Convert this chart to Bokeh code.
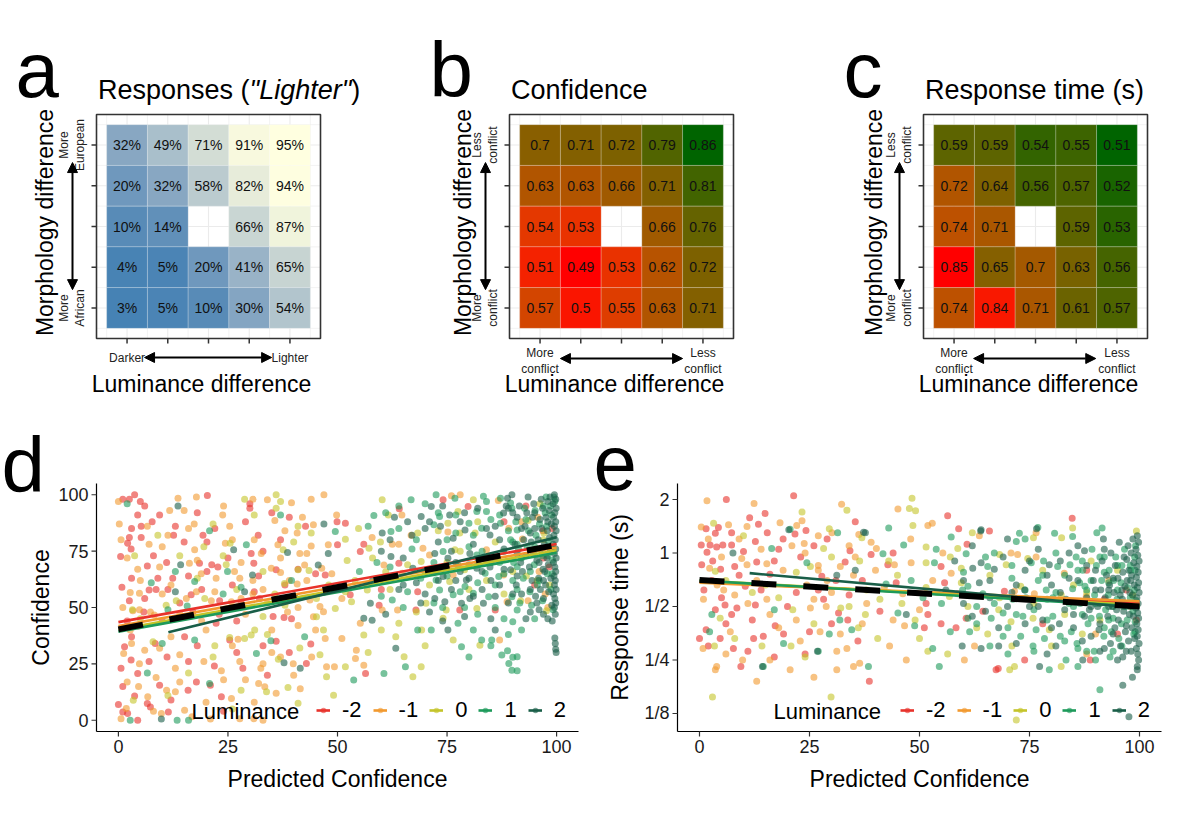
import math
from bokeh.plotting import figure
from bokeh.models import (ColumnDataSource, LinearColorMapper, Arrow, NormalHead,
                          Range1d, Legend, LegendItem)
from bokeh.layouts import column, row
from bokeh.embed import file_html
from bokeh.resources import INLINE
from bokeh.core.properties import value

FONT = "Liberation Sans"

# ---------------- heatmap data (rows listed top -> bottom, columns left -> right) ----------------
grid_cols = [1, 2, 3, 4, 5]
grid_rows = [5, 4, 3, 2, 1]
resp_pct = [[32, 49, 71, 91, 95],
            [20, 32, 58, 82, 94],
            [10, 14, None, 66, 87],
            [4, 5, 20, 41, 65],
            [3, 5, 10, 30, 54]]
conf_vals = [[0.70, 0.71, 0.72, 0.79, 0.86],
             [0.63, 0.63, 0.66, 0.71, 0.81],
             [0.54, 0.53, None, 0.66, 0.76],
             [0.51, 0.49, 0.53, 0.62, 0.72],
             [0.57, 0.50, 0.55, 0.63, 0.71]]
rt_vals = [[0.59, 0.59, 0.54, 0.55, 0.51],
           [0.72, 0.64, 0.56, 0.57, 0.52],
           [0.74, 0.71, None, 0.59, 0.53],
           [0.85, 0.65, 0.70, 0.63, 0.56],
           [0.74, 0.84, 0.71, 0.61, 0.57]]

# ---------------- scatter data ----------------
lum_labels = ["-2", "-1", "0", "1", "2"]
lum_colors = ["#E8322B", "#F2992E", "#C4C42A", "#1D9A5A", "#195E48"]
pc_ticks = [0, 25, 50, 75, 100]
pc_tick_labels = ["0", "25", "50", "75", "100"]
conf_ticks = [0, 25, 50, 75, 100]
conf_tick_labels = ["0", "25", "50", "75", "100"]
rt_ticks = [0.125, 0.25, 0.5, 1, 2]
rt_tick_labels = ["1/8", "1/4", "1/2", "1", "2"]

# panel d: (predicted confidence, confidence)
conf_pts_m2 = [(1,98),(2.5,98),(3.7,100),(5,97),(20.3,99.7),(30,96),(30,94),(4.4,91),(5.2,86),(9.4,91),(7.7,88),(19.3,82),(31.9,82),(39,90),(2.5,81),(2.1,78.5),(2.9,76),(0.5,72.6),(5.2,81),(12.6,82),(20.2,79),(30.3,74),(30.9,69.6),(6.6,68.4),(12.4,63),(18.5,69.6),(21.3,69),(22.7,68),(20.2,66),(36,66.7),(0.8,59),(7,57.8),(8.6,58),(2.5,53),(11.3,58),(16.6,55.6),(23.1,53),(32.2,54),(5.8,48),(4.6,41.8),(3,37),(15.1,37),(22.3,43),(25.4,35.6),(35.3,46),(39.5,45),(37.8,45.6),(1.4,32.6),(2.9,26.7),(0.6,23),(8.4,34),(11.1,28),(21.9,24),(28.4,23),(33,33),(4.4,20.7),(9.4,15.5),(3.7,10.7),(15.9,13.3),(17.8,17),(21,15.5),(23.5,10.4),(0,7),(1,3.7),(2.1,3),(4.4,0),(6.6,7.4),(7.3,5.9),(11.4,3.7),(74.1,97.8),(79.8,94.8),(64.1,93.8),(42.7,86),(51.8,87.4),(56,78),(50,77.8),(47.2,64.4),(55.2,74.8),(64,69.6),(52.9,55.6),(59.5,51),(68.3,57),(67.9,48.9),(77.9,48.9),(86,48.9),(43.9,33.8),(56.4,20.7),(42.9,25.2),(49.9,88),(60,58),(93,95),(97,72),(95,60),(99,85),(88,88),(98.3,68),(96.9,84),(45,65),(38,60),(8,73),(14,52),(18,92),(26,60),(33,75),(36,35),(3,63),(10,44),(16,26),(24,4),(28,52),(40,55),(2,44),(6,54),(9,63),(11,70),(13,86),(15,79),(17,48),(19,58),(22,85),(25,72),(27,44),(29,88),(32,64),(34,20),(37,80),(39,30),(41,67),(1,15),(7,26),(12,9),(18,33),(23,47),(27,30),(31,57),(35,92),(6,95),(16,64),(3,85)]
conf_pts_m1 = [(0,97),(13.6,98.5),(17.8,99),(30.7,98),(39.5,96.5),(34,97.8),(0.2,87),(11.7,93),(6.6,86),(15,93),(17.3,87),(23.8,91),(25.4,86),(35.7,88.6),(40.8,83),(0.6,80),(2,72),(11.3,82),(17.4,75.6),(24.4,78.5),(32.6,74),(36.4,77.8),(41.4,74),(4.4,67),(9.4,68),(16.2,69.6),(18.9,65),(22.3,63),(26.5,66),(27.7,63),(30.7,62),(34.9,67.4),(37,65.5),(2.7,56.6),(4.8,56.3),(3.3,48.6),(17.8,57),(15.5,54),(21.2,53),(25.8,52.6),(28,54),(30.7,56),(34,52),(40.8,60.4),(4.8,49),(7.3,48),(8.2,46.7),(2.7,40),(27.3,35.9),(38.6,48),(41,42),(1.2,29.6),(4.8,25),(9.4,31.9),(13,23),(19.5,26),(23.5,22),(27.7,26),(33,25),(39.9,25),(37,28),(32.5,23),(8.6,19),(4.6,15),(6.7,10.4),(11,13.3),(13,12.6),(32,16.3),(33.4,14.8),(41.5,14),(1.8,5.2),(0.6,0.7),(9.8,3),(15.1,4.4),(16.8,1.5),(25.8,9.6),(27.7,0.7),(30.9,0.7),(21,0.5),(33,0),(46.9,100),(76,99.6),(49.8,91),(64.7,91),(44.5,86.7),(57.9,81),(62.5,78),(64,78),(66.8,82),(75.2,83.5),(89.1,85.2),(47.9,77.8),(44,77.3),(43,74),(42.5,68.9),(46.4,67.4),(48.7,65),(60.6,68.9),(71,73.3),(69.5,76.3),(84,75.6),(87.9,64.4),(64.8,65.2),(76.4,64.4),(43.7,53.3),(46,50.4),(51,54),(60.2,48.9),(63.7,48.9),(88.7,52.6),(47.9,57.8),(46.8,48.1),(44.5,45.9),(47.2,36.3),(51,36.3),(54.3,31),(55.2,43),(87,35.6),(44.1,28),(47.5,23.7),(49.3,23.7),(54.1,27.4),(56,24.4),(78,100),(86.7,97.5),(92,88),(92.2,80.4),(96,66),(93.5,53),(98,50),(99,76),(95.7,90),(97.4,56),(5,62),(10,77),(14,47),(19,44),(26,80),(29,47),(35,40),(38,84),(12,37),(24,18),(31,8),(6,31),(1,50),(3,34),(7,78),(10,56),(12,60),(14,29),(16,85),(18,71),(20,40),(22,57),(24,95),(26,33),(28,70),(29,18),(31,80),(33,58),(35,30),(37,72),(39,62),(41,50),(43,62),(45,40),(2,17),(8,4),(14,17),(20,8),(36,12),(42,90),(44,98),(40,20)]
conf_pts_0 = [(28.8,98),(36,100),(37,97),(21.6,87),(36,94),(41,86),(19.5,77),(25.5,78.5),(23.9,73),(37.6,75.6),(3.7,73),(24.6,69),(33,66),(37.9,60.7),(41,66.7),(3.2,49),(19.7,54),(35.7,56),(10.9,51),(13.2,53),(33,46),(31.1,40),(28.8,36.3),(30.3,37.8),(25.4,36.7),(7.9,34.8),(21.6,28),(41.4,32),(36.5,27),(28,13.3),(33.8,12.6),(38.7,14.5),(3.4,8.9),(11.3,11),(41,7.5),(60.2,97.8),(81,97.8),(61.6,91),(77.5,92.6),(54.8,85),(59.8,79),(68.3,83),(75.2,87.4),(77.9,83),(81.4,83),(51.8,80.3),(43.5,66.4),(52.2,70.8),(57.2,76.3),(69.1,70.4),(76.8,75.6),(79,66.7),(61,65.9),(75.6,61.5),(45.2,54),(49.5,49.6),(53.2,52.6),(56.8,57.8),(70.2,51.9),(74.8,48.9),(81.8,49.6),(51.8,57),(45.2,45.9),(46.8,40),(56,37.8),(63.3,37),(69.2,40),(76.4,35.6),(82.5,33.3),(74.1,45.2),(47.5,19.3),(51.8,23.7),(65.2,28.1),(69.1,23.7),(67.2,19.3),(49.1,11.1),(93.5,88.6),(97.7,48.6),(91.8,53),(95.6,62),(90,72),(97,80),(96.2,96),(98.4,60),(97.1,83),(93.1,64),(54,62),(58,72),(62,58),(66,69),(68,48),(71,60),(73,84),(75,70),(78,75),(80,58),(82,88),(84,62),(86,79),(88,56),(90,66),(60,40),(70,33),(64,43),(57,30),(48,60),(5,45),(9,82),(14,73),(18,63),(22,33),(27,58),(31,91),(34,38),(38,51),(40,79),(16,21),(26,5),(44,83),(46,29)]
conf_pts_p1 = [(2,96),(37,91),(20.8,84),(29.2,77.8),(13,66),(24.9,66),(39.5,62),(7.5,61),(17.4,61.5),(23.9,56),(28,59),(37.6,52.6),(11.3,49),(15.7,50.7),(10,34),(31.5,29.6),(17.4,35.6),(34.8,35.3),(6.6,21),(20.8,16.3),(2.7,0),(16,0),(13.4,0),(66.8,97.8),(72.5,100),(76.8,98.5),(83.3,99.3),(87.2,98.5),(89.5,96.3),(58.3,90.8),(73.3,90.4),(81.8,92.6),(84,92.6),(89.8,94),(49.5,83.7),(62.2,83.7),(64,85),(72,86.7),(80,87.4),(82.9,85.2),(87.2,87.4),(91,84.4),(74.1,74.8),(81.8,73.3),(87.9,74.8),(77.5,68.9),(83.7,65.2),(86.8,63.7),(91,68.1),(72.5,62.2),(62.5,53.3),(73.3,57.8),(76.4,55.6),(79.1,59.3),(81,56.3),(84.5,54.8),(89.8,54.8),(91,48.9),(42.5,37),(68.3,40),(71.4,40),(77.5,43),(78.3,32.6),(81,40),(82.9,35.6),(85.2,35.6),(90,43.7),(53.7,17.8),(65.5,23.7),(60.6,20.7),(87.5,28.9),(89.1,25.2),(91,28.1),(89.8,22.2),(88.8,30.8),(91,21.9),(90,27.9),(99.4,99),(99.6,97),(98.6,95),(97.4,92),(98.9,91),(96.1,87),(97.7,86),(95.3,82),(98.2,79),(96.7,73),(99.1,71),(94.9,69),(97.9,65),(95.6,60),(98.7,58),(93.9,57),(96.8,53),(99.2,49),(92.7,94),(93.6,84),(91.3,76),(92.4,63),(90.2,70),(91.6,52),(94.3,51),(97.6,99),(95.1,93),(93.3,77),(90.7,88),(89.5,80),(55,66),(57,86),(59,70),(61,92),(63,64),(65,50),(67,76),(69,63),(70,96),(72,70),(74,50),(75,80),(77,91),(78,57),(80,69),(81,82),(82,47),(83,75),(85,89),(86,60),(87,70),(88,45),(89,84),(90,62),(91,78),(92,40),(85,33),(80,28),(60,55),(62,68),(64,95),(66,57),(68,80),(70,66),(72,52),(73,92),(75,64),(77,83),(79,50),(80,77),(82,61),(84,97),(85,70),(86,50),(87,91),(88,65),(90,79),(91,58),(92,72),(93,89),(94,66),(95,77),(96,62),(97,95),(98,73),(99,65),(95,45),(89,38)]
conf_pts_p2 = [(13.6,95),(26.3,75.6),(38.6,74.4),(14.2,69),(30.6,64.4),(13,57),(28.8,57),(40.2,55),(37.8,25.5),(41.5,23),(9.8,0.5),(71.4,94.8),(69.1,90.4),(75.6,91),(87.9,91.9),(88.8,98.5),(46.9,87),(60.2,83),(73.5,86),(76.4,80.7),(79.1,84.4),(84.8,82.2),(47.9,74),(45.6,68.9),(62.2,72.6),(67.2,67.4),(72.2,74),(75.2,71.9),(80.2,74),(86,71.9),(81.8,67.4),(84.8,68),(89.5,66.7),(74.1,63.7),(79.4,62.2),(57.5,51.9),(72.2,54),(74.5,52.6),(78.3,51.9),(80.2,54),(83.3,51.9),(56,45.2),(57.9,44.4),(63.3,31.9),(75.2,40),(99.5,100),(99.8,98),(99.2,96),(99.9,94),(99.6,92),(99.3,90),(99.8,88),(99.5,86),(99.9,84),(99.4,82),(99.7,80),(99.2,78),(99.8,76),(99.5,74),(99.9,72),(99.3,70),(99.6,68),(99.8,66),(99.4,64),(99.7,62),(99.5,60),(99.9,58),(99.3,56),(99.6,54),(99.8,52),(99.5,50),(99.7,47),(99.6,36.5),(99.7,34),(99.8,31.5),(99.9,30),(98.5,99),(98,97),(98.3,93),(97.6,90),(98.8,87),(97.9,84),(98.4,81),(97.2,78),(98.6,75),(97.8,72),(98.1,69),(97.3,66),(98.7,63),(97.5,60),(98.2,57),(97,54),(98.9,51),(96.5,98),(96.8,94),(96.2,89),(96.6,85),(95.8,80),(96.4,76),(95.5,71),(96.9,67),(95.9,63),(96.3,58),(95.2,55),(94.8,96),(94.5,90),(95,85),(94.2,79),(94.7,74),(93.8,68),(94.4,62),(93.5,99),(93.2,92),(92.8,86),(92.5,80),(93,73),(92.2,66),(91.5,95),(91,90),(90.5,78),(91.8,70),(90.8,60),(89.8,100),(88.5,95),(92,56),(95.5,52),(94,48),(97,47),(99,44),(98,45),(58,62),(61,47),(64,58),(66,88),(68,61),(70,85),(71,48),(72,66),(73,79),(74,95),(76,58),(77,70),(78,88),(79,46),(80,63),(81,78),(82,94),(83,58),(84,72),(85,45),(86,86),(87,60),(88,76),(89,52),(90,92),(91,64),(86,55),(83,66),(77,62),(70,56),(65,72),(62,80),(60,75),(63,90),(65,60),(67,82),(69,52),(71,88),(73,62),(74,44),(76,75),(78,66),(79,92),(81,55),(82,70),(84,85),(85,62),(86,40),(87,80),(88,67),(89,94),(90,56),(91,74),(92,85),(93,45),(94,58),(95,92),(96,70),(97,62),(98,88),(96,49),(94,83)]

# panel e: (predicted confidence, response time in s)
rt_pts_m2 = [(6.1,2.0),(21.4,2.1),(1.5,1.37),(4.3,1.39),(3.6,1.29),(7.3,1.3),(11.4,1.58),(13.4,1.45),(14.9,1.67),(15.4,1.3),(21.7,1.28),(24.2,1.34),(35.4,1.5),(0.4,1.11),(2.4,1.11),(3.9,1.08),(1.7,1.01),(0.5,0.86),(4.8,0.81),(5.3,1.11),(7.3,1.11),(12.7,1.16),(13,0.89),(27.8,0.74),(33.1,0.89),(34.2,1.03),(2.8,0.7),(3.6,0.48),(5.8,0.51),(8.5,0.49),(7.3,0.45),(10.4,0.65),(12.7,0.51),(17.2,0.39),(19.1,0.35),(28.2,0.55),(31.6,0.46),(33.7,0.42),(0,0.33),(1.5,0.37),(2,0.3),(4.7,0.33),(7.7,0.29),(9.4,0.23),(12.3,0.33),(14.5,0.34),(38.6,0.19),(56.4,1.62),(84.7,1.57),(58.9,1.37),(65.9,1.33),(60.8,1.12),(42.8,0.86),(54.9,0.84),(44.7,0.68),(55.7,0.68),(58.7,0.59),(69.3,0.61),(51.5,0.52),(51.9,0.45),(54.9,0.4),(51.1,0.38),(58.3,0.38),(60.6,0.43),(64.4,0.47),(78,0.4),(67.4,0.22),(73.9,0.25),(67.9,0.224),(88.8,0.25),(99.3,0.42),(97,0.62),(92,0.55),(88,0.8),(95,0.35),(9,0.75),(17,0.9),(22,0.6),(26,1.1),(30,0.4),(37,0.7),(6,0.4),(19,1.2),(1,0.62),(3,0.9),(5,0.56),(8,0.84),(10,1.02),(12,0.42),(14,0.62),(16,0.76),(18,1.05),(20,0.5),(23,0.95),(25,0.36),(27,0.62),(29,1.2),(31,0.7),(34,0.58),(36,0.32),(39,0.98),(41,0.47),(44,1.0),(11,0.28),(17,0.26),(24,0.27)]
rt_pts_m1 = [(1.7,1.97),(12.4,1.9),(32.3,1.88),(0.4,1.4),(6.6,1.44),(10.8,1.41),(18.3,1.48),(22.1,1.43),(23.3,1.52),(30.1,1.3),(36.2,1.27),(2.3,0.82),(9.6,0.93),(10.8,0.86),(15.3,0.87),(23.8,1.13),(27,0.85),(27,0.8),(32,0.84),(35.4,0.95),(0.9,0.55),(15.3,0.55),(24.4,0.66),(25.2,0.49),(28.8,0.5),(0.8,0.29),(9.8,0.25),(20.6,0.22),(22.9,0.32),(27.4,0.36),(31.2,0.28),(31.2,0.22),(33.5,0.29),(35,0.23),(36.4,0.24),(3.9,0.23),(3.6,0.22),(5.5,0.62),(8,0.58),(45.1,1.77),(51.9,1.43),(52.9,1.47),(63.6,1.25),(76.5,1.3),(55.3,1.0),(40.2,1.06),(44.3,0.86),(48.1,0.88),(57.2,0.77),(70.8,1.0),(72.3,0.98),(76.5,0.95),(82.9,0.77),(46.2,0.59),(71.6,0.61),(76.1,0.59),(87.9,0.57),(46.6,0.39),(43.2,0.3),(47,0.25),(62.5,0.3),(60.2,0.25),(88,0.27),(93,0.7),(98,0.5),(90,0.35),(5,0.95),(13,0.7),(18,0.38),(21,1.1),(26,0.55),(29,0.7),(34,1.1),(38,0.52),(40,0.8),(16,0.25),(2,1.2),(4,0.66),(7,0.36),(9,1.2),(11,0.52),(14,1.05),(16,0.45),(19,0.8),(22,0.42),(24,1.0),(27,1.25),(30,0.6),(32,0.35),(35,0.75),(37,0.4),(39,1.15),(42,0.64),(44,0.42),(48,1.2),(50,0.48),(53,0.7),(6,0.27),(13,0.19),(26,0.2)]
rt_pts_0 = [(23.3,1.7),(33.5,1.74),(3.2,1.47),(29.5,1.37),(36.9,1.22),(3.6,0.79),(25.2,0.84),(28.2,1.06),(36.4,0.9),(4.7,0.43),(21.2,0.48),(32.1,0.49),(36.1,0.38),(37.7,0.45),(3.4,0.3),(14.2,0.3),(20.8,0.3),(2.95,0.155),(29.9,0.155),(12,0.6),(48.3,2.03),(47.7,1.78),(49.1,1.73),(84.8,1.38),(48.5,1.43),(75.9,1.22),(82.3,1.22),(58.7,1.06),(51.5,1.08),(51.5,0.88),(59.5,0.82),(68.2,0.98),(69.7,0.86),(74.6,0.93),(51.5,0.64),(56.8,0.57),(59.5,0.68),(68.2,0.56),(82.2,0.58),(65.5,0.35),(70.8,0.41),(75.8,0.43),(79.5,0.37),(40.5,0.33),(51.9,0.28),(56.4,0.27),(70.5,0.22),(71.6,0.23),(82.2,0.23),(72,0.115),(99.3,1.33),(95,0.8),(98.5,0.58),(91,0.42),(88,0.6),(54,0.6),(57,0.95),(61,0.5),(63,0.38),(66,0.75),(68,0.48),(71,0.3),(73,0.65),(76,0.52),(78,0.8),(80,0.3),(83,0.45),(85,0.66),(87,0.35),(89,0.9),(62,1.3),(45,0.75),(41,0.55),(50,0.33),(6,0.7),(10,1.25),(15,0.66),(18,0.56),(22,0.78),(26,0.4),(30,0.95),(34,0.5),(38,0.62),(43,0.9),(46,0.52),(49,0.42),(8,0.33),(24,0.26)]
rt_pts_p1 = [(20.6,1.36),(31.4,1.3),(16.4,1.06),(24.4,0.88),(2.8,0.45),(17,0.48),(31.9,0.42),(34.6,0.37),(2.3,0.36),(14.5,0.23),(19.1,0.31),(29.5,0.35),(27,0.28),(38.4,0.23),(84.8,1.24),(43,1.38),(57.2,1.23),(72.7,1.29),(76.9,1.39),(80.7,1.29),(60.6,0.99),(53.8,1.05),(46.4,1.11),(41.7,0.99),(53.4,0.88),(65.5,0.84),(72,1.16),(75.4,0.88),(78.2,0.9),(81.4,0.84),(84.2,0.86),(85.6,0.95),(87.1,0.8),(42.4,0.67),(48.1,0.7),(50.8,0.56),(59.8,0.62),(64.4,0.59),(71.2,0.55),(74.2,0.56),(78.8,0.62),(80.3,0.56),(84.8,0.63),(86.4,0.68),(45.1,0.46),(48.9,0.39),(61,0.43),(61.4,0.36),(66.3,0.43),(70.1,0.38),(73.5,0.44),(76.5,0.37),(80.3,0.44),(84.5,0.36),(53,0.29),(54.5,0.23),(70.1,0.27),(75.8,0.3),(79.5,0.22),(78.4,0.33),(83.3,0.25),(86,0.23),(91,0.17),(99.1,1.1),(98.9,0.95),(99,0.8),(98.8,0.62),(99.2,0.54),(98.5,0.47),(99,0.41),(98.7,0.35),(97.9,0.85),(97.3,0.64),(97.9,0.56),(97.2,0.42),(96.6,1.05),(96,0.85),(95.8,0.68),(96.3,0.5),(95.9,0.4),(95.3,0.33),(94.6,0.95),(94.1,0.7),(94.9,0.55),(94,0.43),(93.6,0.36),(93.1,0.8),(92.9,0.58),(92.3,0.48),(91.9,0.34),(91.4,0.7),(90.2,0.85),(90.9,0.44),(89.8,0.58),(89.2,1.05),(90.3,1.3),(91.5,1.38),(88.3,0.4),(87.6,0.65),(86.5,0.52),(85.8,0.31),(89.7,0.28),(93.3,0.26),(55,0.52),(57,0.36),(60,0.78),(63,0.5),(66,0.3),(67,1.0),(69,0.46),(71,0.72),(73,0.34),(74,1.2),(76,0.48),(77,0.7),(79,0.55),(81,1.0),(82,0.34),(83,0.75),(85,0.5),(86,0.29),(87,0.9),(88,0.62),(89,0.43),(90,0.25),(92,0.95),(93,0.42),(94,0.28),(61,0.65),(63,0.4),(65,0.95),(67,0.52),(69,0.34),(71,0.85),(72,0.45),(74,0.62),(76,0.28),(78,0.75),(79,0.42),(81,0.6),(83,0.32),(84,0.52),(86,0.8),(87,0.45),(88,0.28),(89,0.7),(90,0.52),(91,0.95),(92,0.38),(93,0.68),(94,0.5),(95,0.85),(96,0.3),(97,0.5),(98,0.8),(99,0.36),(95,0.62),(92,0.78)]
rt_pts_p2 = [(7.6,1.0),(35.4,0.8),(31.2,0.75),(37.7,1.3),(64,1.35),(62.1,0.82),(67,0.81),(79.5,0.86),(87.5,1.03),(63.6,0.68),(73.9,0.62),(83.3,0.55),(47,0.45),(81.8,0.4),(87.5,0.44),(59.7,0.3),(77.3,0.23),(87.1,0.25),(20.3,1.35),(37.3,1.31),(14.3,0.23),(26.8,0.28),(63.9,1.33),(76.6,1.37),(99.5,1.25),(99.8,1.15),(99.2,1.05),(99.6,0.97),(99.9,0.9),(99.4,0.84),(99.7,0.78),(99.3,0.73),(99.8,0.68),(99.5,0.64),(99.9,0.6),(99.4,0.56),(99.7,0.52),(99.2,0.49),(99.6,0.46),(99.8,0.43),(99.4,0.4),(99.7,0.37),(99.5,0.34),(99.9,0.31),(99.3,0.29),(99.6,0.27),(99.8,0.25),(99.5,0.23),(98.5,1.2),(98.1,1.0),(98.7,0.88),(98.2,0.75),(98.8,0.66),(98.4,0.58),(98,0.5),(98.6,0.44),(98.3,0.38),(98.9,0.33),(98.1,0.28),(97.4,1.1),(97.1,0.92),(97.6,0.8),(97.2,0.7),(97.8,0.6),(97.3,0.52),(97.7,0.45),(97,0.39),(97.5,0.32),(96.5,0.95),(96.2,0.78),(96.7,0.65),(96.1,0.55),(96.4,0.47),(96.8,0.36),(96.2,0.26),(95.4,1.15),(95.1,0.72),(95.6,0.58),(95.2,0.42),(95.7,0.3),(94.5,0.85),(94.2,0.6),(94.8,0.48),(94.4,0.38),(93.5,1.0),(93.2,0.66),(93.8,0.5),(93.4,0.31),(92.5,0.75),(92.2,0.56),(92.8,0.44),(91.5,0.9),(91.2,0.62),(90.5,0.5),(90.8,0.37),(96.2,0.18),(97.6,0.12),(98.4,0.2),(99.5,0.22),(89.5,0.7),(88.6,0.48),(91.8,1.2),(56,0.62),(58,0.9),(60,0.52),(62,1.1),(65,0.47),(66,0.7),(68,0.38),(69,0.95),(71,0.6),(72,0.31),(74,0.8),(75,0.5),(77,1.05),(78,0.42),(80,0.66),(81,0.3),(82,0.9),(83,0.48),(84,0.72),(85,0.38),(86,1.1),(88,0.56),(89,0.34),(90,0.8),(91,0.52),(92,0.29),(93,0.62),(79,0.27),(70,0.5),(64,0.29),(60,0.7),(62,0.44),(64,0.88),(66,0.56),(68,0.3),(70,1.2),(72,0.66),(74,0.4),(75,0.9),(77,0.5),(79,0.75),(80,0.38),(82,0.6),(84,1.0),(85,0.45),(86,0.7),(87,0.32),(88,0.85),(89,0.5),(90,0.62),(91,0.4),(92,1.05),(93,0.5),(94,0.72),(95,0.25),(96,0.62),(97,0.28),(98,0.7),(94,0.35),(91,0.28)]

# fitted lines per luminance level: (x_start, y_start, x_end, y_end)
conf_fits = [(0, 43.5, 100, 78.2), (0, 41.8, 100, 76.6), (0, 40.2, 100, 75.4),
             (0, 39.3, 100, 74.3), (11.4, 39.0, 100, 81.2)]
conf_fit_all = (0, 40.3, 100, 77.8)
rt_fits = [(0, 0.69, 100, 0.52), (0, 0.68, 100, 0.535), (0, 0.70, 100, 0.51),
           (0, 0.70, 100, 0.50), (11.4, 0.77, 100, 0.49)]
rt_fit_all = (0, 0.705, 100, 0.50)


# ---------------- colour helpers (ggplot-style Lab gradients) ----------------
def _lin(c):
    c = c / 255.0
    return c / 12.92 if c <= 0.04045 else ((c + 0.055) / 1.055) ** 2.4


def _unlin(c):
    c = 12.92 * c if c <= 0.0031308 else 1.055 * (c ** (1 / 2.4)) - 0.055
    return max(0, min(255, int(round(c * 255))))


def _to_lab(hexc):
    r, g, b = [_lin(int(hexc[i:i + 2], 16)) for i in (1, 3, 5)]
    X = (0.4124 * r + 0.3576 * g + 0.1805 * b) / 0.95047
    Y = 0.2126 * r + 0.7152 * g + 0.0722 * b
    Z = (0.0193 * r + 0.1192 * g + 0.9505 * b) / 1.08883
    f = lambda t: t ** (1 / 3) if t > 216 / 24389 else (24389 / 27 * t + 16) / 116
    fx, fy, fz = f(X), f(Y), f(Z)
    return (116 * fy - 16, 500 * (fx - fy), 200 * (fy - fz))


def _from_lab(L, a, b):
    fy = (L + 16) / 116
    fx = fy + a / 500
    fz = fy - b / 200
    fi = lambda t: t ** 3 if t ** 3 > 216 / 24389 else (116 * t - 16) / (24389 / 27)
    X, Y, Z = 0.95047 * fi(fx), fi(fy), 1.08883 * fi(fz)
    r = 3.2406 * X - 1.5372 * Y - 0.4986 * Z
    g = -0.9689 * X + 1.8758 * Y + 0.0415 * Z
    bb = 0.0557 * X - 0.2040 * Y + 1.0570 * Z
    return "#%02x%02x%02x" % tuple(_unlin(max(0.0, v)) for v in (r, g, bb))


def lab_palette(c1, c2, n=256):
    l1, l2 = _to_lab(c1), _to_lab(c2)
    return [_from_lab(*[l1[k] + (l2[k] - l1[k]) * i / (n - 1) for k in range(3)]) for i in range(n)]


def txt(p, x, y, t, size, **kw):
    p.text(x=x, y=y, text=t, text_font=value(FONT), text_font_size=size,
           text_color=kw.pop("color", "black"), **kw)


U = 224 / 5.5  # pixels per heatmap cell


def heatmap(vals, fmt, pal, W, L, title_parts, letter, letter_dx, xlab, ylab, ytitle_dx,
            xlab_dy, harrow):
    H, T = 408, 114
    lo, hi = 0.25, 5.75
    p = figure(width=W, height=H, min_border=0, title=None,
               x_range=Range1d(lo - L / U, lo + (W - L) / U),
               y_range=Range1d(hi - (H - T) / U, hi + T / U),
               x_axis_location=None, y_axis_location=None,
               output_backend="svg", toolbar_location=None)
    p.grid.grid_line_color = None
    p.outline_line_color = None
    mid = (lo + hi) / 2
    gmin = [c - 0.5 for c in grid_cols] + [grid_cols[-1] + 0.5]
    for gl, wdt in ((grid_cols, 1.1), (gmin, 0.6)):
        n = len(gl)
        p.segment(x0=gl, y0=[lo] * n, x1=gl, y1=[hi] * n, line_color="#EBEBEB", line_width=wdt)
        p.segment(x0=[lo] * n, y0=gl, x1=[hi] * n, y1=gl, line_color="#EBEBEB", line_width=wdt)
    xs, ys, vv, tt = [], [], [], []
    for ri, r in enumerate(grid_rows):
        for ci, c in enumerate(grid_cols):
            v = vals[ri][ci]
            if v is None:
                continue
            xs.append(c); ys.append(r); vv.append(v); tt.append(fmt(v))
    mapper = LinearColorMapper(palette=pal, low=min(vv), high=max(vv))
    src = ColumnDataSource(dict(x=xs, y=ys, v=vv, t=tt))
    p.rect("x", "y", width=1, height=1, source=src,
           fill_color={"field": "v", "transform": mapper},
           line_color="white", line_alpha=0.35, line_width=0.6)
    p.text("x", "y", text="t", source=src, text_align="center", text_baseline="middle",
           text_font_size="14px", text_font=value(FONT), text_color="#111111")
    p.rect(x=[mid], y=[mid], width=hi - lo, height=hi - lo, fill_color=None,
           line_color="#333333", line_width=1.6)
    tk = 5 / U
    p.segment(x0=grid_cols, y0=[lo] * 5, x1=grid_cols, y1=[lo - tk] * 5,
              line_color="#333333", line_width=1.5)
    p.segment(x0=[lo] * 5, y0=grid_cols, x1=[lo - tk] * 5, y1=grid_cols,
              line_color="#333333", line_width=1.5)
    # tick labels
    txt(p, [min(grid_cols), max(grid_cols)], [lo - xlab_dy / U] * 2, list(xlab), "12px",
        color="#222222", text_align="center", text_baseline="top", text_line_height=1.15)
    txt(p, [lo - 9 / U] * 2, [min(grid_rows), max(grid_rows)], list(ylab), "12px",
        color="#222222", angle=math.pi / 2, text_align="center", text_baseline="bottom",
        text_line_height=1.15)
    # axis titles
    txt(p, [mid - 7 / U], [lo - 45 / U], ["Luminance difference"], "23px",
        text_align="center", text_baseline="middle")
    txt(p, [lo - ytitle_dx / U], [mid + 4 / U], ["Morphology difference"], "23px",
        angle=math.pi / 2, text_align="center", text_baseline="middle")
    # arrows
    head = dict(size=10, fill_color="black", line_color="black", line_width=1)
    p.add_layout(Arrow(start=NormalHead(**head), end=NormalHead(**head),
                       x_start=lo - 24 / U, y_start=1.45, x_end=lo - 24 / U, y_end=4.57,
                       line_width=2, line_color="black"))
    ya = lo - harrow[2] / U
    p.add_layout(Arrow(start=NormalHead(**head), end=NormalHead(**head),
                       x_start=harrow[0], y_start=ya, x_end=harrow[1], y_end=ya,
                       line_width=2, line_color="black"))
    # panel letter and title (anchored at their vertical middle)
    txt(p, [lo - letter_dx / U], [hi + 45 / U], [letter], "78px", text_baseline="middle")
    xpos = lo + 1.5 / U
    for t, style, w in title_parts:
        txt(p, [xpos], [hi + 24.5 / U], [t], "27px", text_font_style=style,
            text_baseline="middle")
        xpos += w * 27 / U
    return p


pal_a = lab_palette("#4682B4", "#FFFFE0")
pal_b = lab_palette("#FF0000", "#006400")
pal_c = lab_palette("#006400", "#FF0000")

pa = heatmap(resp_pct, lambda v: "%d%%" % v, pal_a, 420, 96,
             [("Responses (", "normal", 5.613), ('"Lighter"', "italic", 3.767), (")", "normal", 0.333)],
             "a", 81, ("Darker", "Lighter"), ("More\nAfrican", "More\nEuropean"), 52, 12, (1.43, 4.55, 19))
pb = heatmap(conf_vals, lambda v: "%g" % v, pal_b, 415, 89, [("Confidence", "normal", 5.06)],
             "b", 80, ("More\nconflict", "Less\nconflict"), ("More\nconflict", "Less\nconflict"), 47, 7,
             (1.5, 4.5, 20))
pc = heatmap(rt_vals, lambda v: "%g" % v, pal_c, 361, 88, [("Response time (s)", "normal", 8.11)],
             "c", 80, ("More\nconflict", "Less\nconflict"), ("More\nconflict", "Less\nconflict"), 50, 7,
             (1.48, 4.48, 20))


def scatter_panel(groups, fits, fit_all, W, L, box_w, ylog, ylo, yhi, yticks, ylabels,
                  ytitle, ytitle_dx, letter, letter_mid, lum_xy, legend_x):
    H, T, box_h = 416, 75, 248
    xlo, xhi = -5, 105
    ux = box_w / (xhi - xlo)
    xoff = lambda x, px: x + px / ux
    if ylog:
        dpx = box_h / math.log10(yhi / ylo)
        yoff = lambda y, px: y * 10 ** (px / dpx)
        ymid = math.sqrt(ylo * yhi)
    else:
        uy = box_h / (yhi - ylo)
        yoff = lambda y, px: y + px / uy
        ymid = (ylo + yhi) / 2
    kw = dict(y_axis_type="log") if ylog else {}
    p = figure(width=W, height=H, min_border=0, title=None,
               x_range=Range1d(xoff(xlo, -L), xoff(xhi, W - L - box_w)),
               y_range=Range1d(yoff(ylo, -(H - T - box_h)), yoff(yhi, T)),
               x_axis_location=None, y_axis_location=None,
               output_backend="svg", toolbar_location=None, **kw)
    p.grid.grid_line_color = None
    p.outline_line_color = None
    scat = []
    for pts, col in zip(groups, lum_colors):
        src = ColumnDataSource(dict(x=[a for a, b in pts], y=[b for a, b in pts]))
        scat.append(p.scatter("x", "y", source=src, size=7, fill_color=col, fill_alpha=0.6,
                              line_color=None))
    items = []
    for fit, col, sr, lab in zip(fits, lum_colors, scat, lum_labels):
        lr = p.line([fit[0], fit[2]], [fit[1], fit[3]], line_color=col, line_width=2.6)
        items.append(LegendItem(label=lab, renderers=[lr, sr]))
    p.line([fit_all[0], fit_all[2]], [fit_all[1], fit_all[3]], line_color="black",
           line_width=6, line_dash="25 27")
    # axes
    p.segment(x0=[xlo, xlo], y0=[ylo, ylo], x1=[xlo, xhi], y1=[yhi, ylo],
              line_color="black", line_width=1.2)
    n = len(pc_ticks)
    p.segment(x0=pc_ticks, y0=[ylo] * n, x1=pc_ticks, y1=[yoff(ylo, -5)] * n,
              line_color="#333333", line_width=1.2)
    m = len(yticks)
    p.segment(x0=[xlo] * m, y0=yticks, x1=[xoff(xlo, -5)] * m, y1=yticks,
              line_color="#333333", line_width=1.2)
    txt(p, pc_ticks, [yoff(ylo, -8)] * n, pc_tick_labels, "18px", color="#1a1a1a",
        text_align="center", text_baseline="top")
    txt(p, [xoff(xlo, -8)] * m, yticks, ylabels, "18px", color="#1a1a1a",
        text_align="right", text_baseline="middle")
    txt(p, [(xlo + xhi) / 2], [yoff(ylo, -47)], ["Predicted Confidence"], "23px",
        text_align="center", text_baseline="middle")
    txt(p, [xoff(xlo, -ytitle_dx)], [ymid], [ytitle], "23px", angle=math.pi / 2,
        text_align="center", text_baseline="middle")
    txt(p, [xoff(xlo, -L + 1)], [yoff(yhi, letter_mid)], [letter], "78px",
        text_baseline="middle")
    txt(p, [lum_xy[0]], [lum_xy[1]], ["Luminance"], "22px", text_baseline="middle")
    leg = Legend(items=items, orientation="horizontal", location=(legend_x, 101),
                 glyph_width=14, glyph_height=16, label_standoff=12, spacing=11,
                 label_width=8, padding=0, margin=0, border_line_color=None,
                 background_fill_alpha=0, label_text_font_size="22px",
                 label_text_font=FONT, label_text_color="black")
    p.add_layout(leg)
    return p


pd_ = scatter_panel([conf_pts_m2, conf_pts_m1, conf_pts_0, conf_pts_p1, conf_pts_p2],
                    conf_fits, conf_fit_all, 592, 96, 482, False, -5, 105,
                    conf_ticks, conf_tick_labels, "Confidence", 56, "d", 18.5, (16.7, 4), 316)
pe = scatter_panel([rt_pts_m2, rt_pts_m1, rt_pts_0, rt_pts_p1, rt_pts_p2],
                   rt_fits, rt_fit_all, 604, 85, 484, True, 0.099, 2.46,
                   rt_ticks, rt_tick_labels, "Response time (s)", 58, "e", 20.5, (16.8, 0.129), 308)

layout = column(row(pa, pb, pc), row(pd_, pe))
open("out.html", "w").write(file_html(layout, INLINE))
